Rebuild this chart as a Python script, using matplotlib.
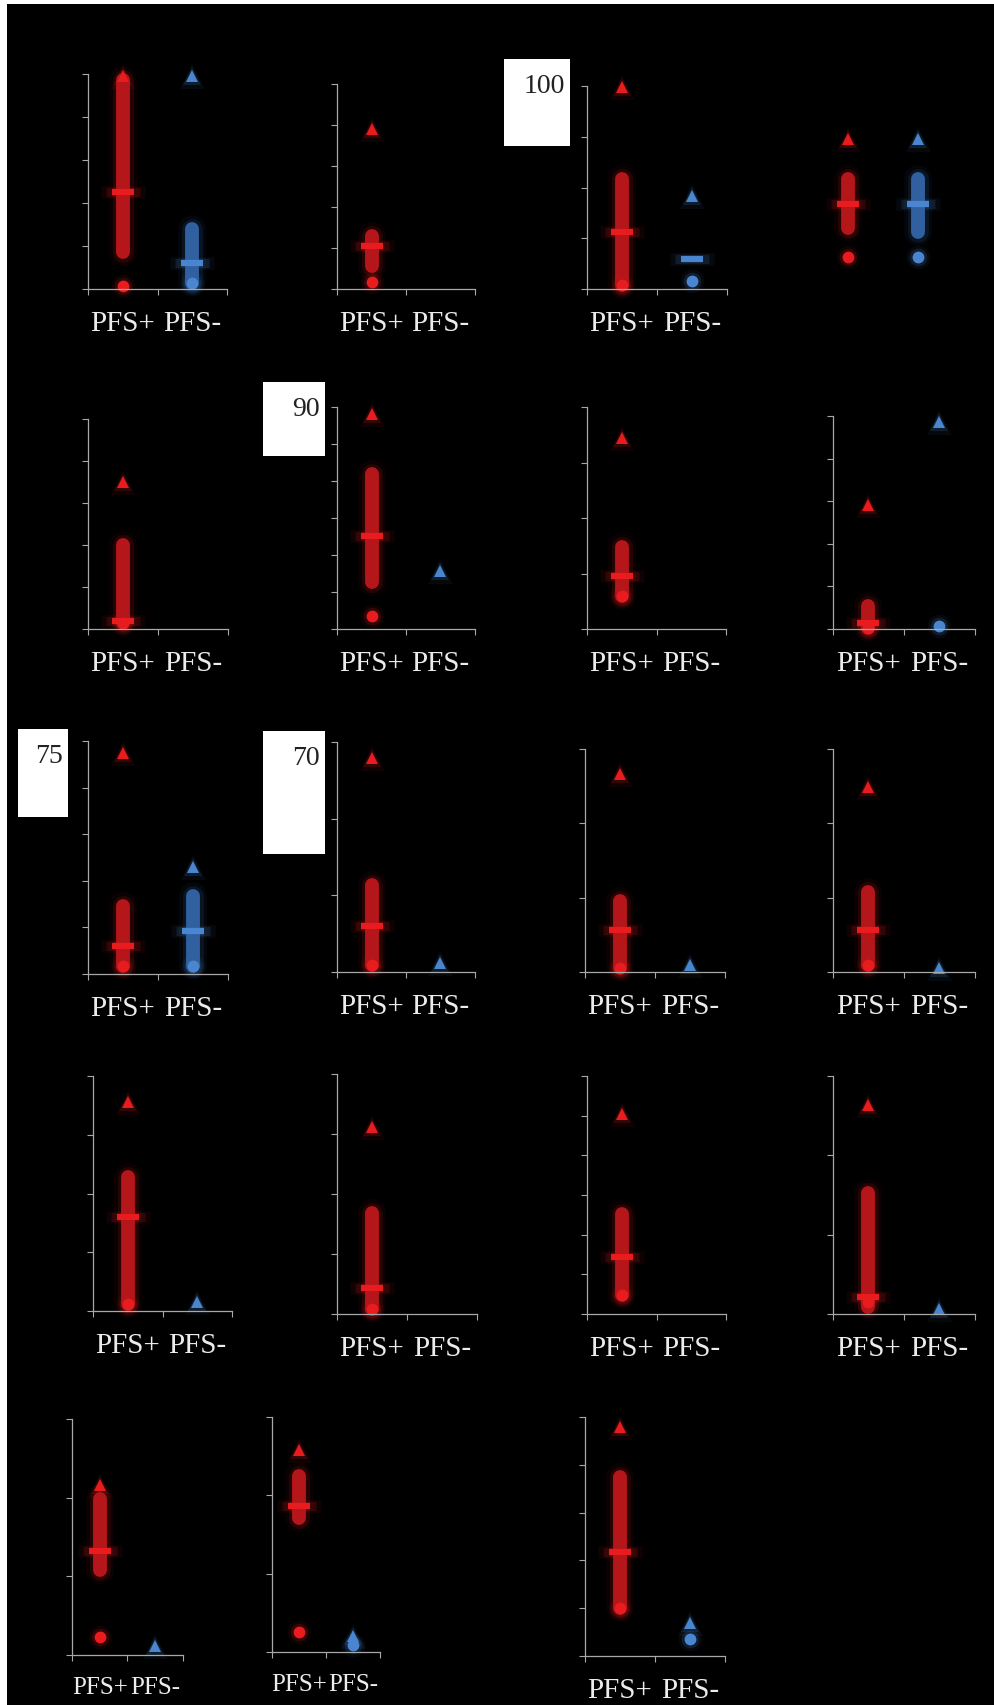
import numpy as np
import matplotlib.pyplot as plt
from matplotlib.patches import Rectangle

W, H = 995, 1706
nan = np.nan

categories = ['PFS+', 'PFS-']

# one row per panel (reading order), values: [min, q1, median, q3, max]
red_stats = [
    [1.5, 17, 45, 97, 99],
    [3.5, 11, 21, 26, 78],
    [2, 2, 28, 54, 99.5],
    [16, 30, 42, 54, 74],
    [3, 3, 4, 40, 70],
    [6, 21, 42, 70, 97],
    [15, 15, 24, 37, 86],
    [0.5, 0.5, 3, 11, 58],
    [3.5, 3.5, 12, 29, 95],
    [3, 3, 20, 38, 93],
    [2, 2, 19, 32, 89],
    [3, 3, 19, 36, 83],
    [3, 3, 40, 57, 89],
    [2, 2, 11, 42, 78],
    [8, 8, 24, 42, 84],
    [5, 3, 7, 51, 88],
    [7.5, 36, 44, 66, 72],
    [8.5, 57, 62, 75, 86],
    [20, 20, 43.5, 75, 96],
]
blue_stats = [
    [3, 3, 12, 28, 99],
    [nan, nan, nan, nan, nan],
    [4, nan, 15, nan, 46],
    [16, 28, 42, 54, 74],
    [nan, nan, nan, nan, nan],
    [nan, nan, nan, nan, 26],
    [nan, nan, nan, nan, nan],
    [1.5, nan, nan, nan, 97],
    [3.5, 3.5, 18.5, 33.5, 46],
    [nan, nan, nan, nan, 4],
    [nan, nan, nan, nan, 3],
    [nan, nan, nan, nan, 2],
    [nan, nan, nan, nan, 4],
    [nan, nan, nan, nan, nan],
    [nan, nan, nan, nan, nan],
    [nan, nan, nan, nan, 2],
    [nan, nan, nan, nan, 4],
    [3, nan, nan, nan, 7],
    [7, nan, nan, nan, 14],
]
tick_intervals = [5, 5, 4, 0, 5, 6, 4, 5, 5, 3, 3, 3, 4, 4, 6, 3, 3, 3, 5]
box_labels = ['100', '90', '75', '70']

# layout in pixels: left, right, axis bottom, axis top
panel_px = [
    (88, 227, 290, 75), (337, 475, 290, 85), (587, 727, 290, 87), (813, 953, 290, 87),
    (88, 228, 630, 420), (337, 475, 630, 408), (587, 726, 630, 408), (833, 975, 630, 417),
    (88, 228, 975, 742), (337, 475, 973, 743), (585, 725, 973, 750), (833, 975, 973, 750),
    (93, 232, 1312, 1077), (337, 477, 1315, 1075), (587, 726, 1315, 1077), (833, 975, 1315, 1077),
    (72, 183, 1656, 1420), (272, 380, 1653, 1418), (585, 725, 1657, 1418),
]
label_size = [21] * 16 + [18, 18, 21]
box_px = [(504, 60, 570, 147), (263, 383, 325, 457), (18, 730, 68, 818), (263, 732, 325, 855)]

RED = ('#e81c1e', '#b4161a')
BLUE = ('#4a86d0', '#30609f')
GLOW = [(2.0, 0.07), (1.5, 0.16), (1.0, 1.0)]
axis_col = '#a8a8a8'

plt.rcParams['font.family'] = ['Liberation Serif', 'DejaVu Serif']

fig = plt.figure(figsize=(W / 100, H / 100), dpi=100, facecolor='black')
fig.patches.append(Rectangle((0, 1 - 5 / H), 1, 5 / H, transform=fig.transFigure,
                             facecolor='white', edgecolor='none'))
fig.patches.append(Rectangle((0, 0), 7 / W, 1, transform=fig.transFigure,
                             facecolor='white', edgecolor='none'))


def draw_group(ax, x, stats, colors):
    lo, q1, med, q3, hi = stats
    bright, body = colors
    for scale, a in GLOW:
        if not np.isnan(q1) and not np.isnan(q3):
            ax.plot([x, x], [q1, q3], color=body, lw=10 * scale, alpha=a,
                    solid_capstyle='round', clip_on=False)
        if not np.isnan(med):
            ax.plot([x], [med], marker='_', ms=16 * scale, mew=4.5 * scale,
                    color=bright, alpha=a, clip_on=False)
        if not np.isnan(hi):
            ax.plot([x], [hi], marker='^', ms=9 * scale, mew=0,
                    color=bright, alpha=a, clip_on=False)
        if not np.isnan(lo):
            ax.plot([x], [lo], marker='o', ms=8.5 * scale, mew=0,
                    color=bright, alpha=a, clip_on=False)


for i, (l, r, b, t) in enumerate(panel_px):
    ax = fig.add_axes([l / W, 1 - b / H, (r - l) / W, (b - t) / H])
    ax.set_facecolor('none')
    ax.set_xlim(0, 2)
    ax.set_ylim(0, 100)
    for s in ['top', 'right']:
        ax.spines[s].set_visible(False)
    n = tick_intervals[i]
    if n == 0:
        ax.axis('off')
    else:
        for s in ['left', 'bottom']:
            ax.spines[s].set_color(axis_col)
            ax.spines[s].set_linewidth(0.9)
        ax.set_yticks(np.linspace(0, 100, n + 1))
        ax.set_yticklabels([])
        ax.set_xticks([0, 1, 2])
        ax.set_xticklabels([])
        ax.set_xticks([0.5, 1.5], minor=True)
        ax.set_xticklabels(categories, minor=True)
        ax.tick_params(axis='both', which='major', color=axis_col, length=4, width=0.8)
        ax.tick_params(axis='x', which='minor', length=0, pad=15,
                       labelsize=label_size[i], labelcolor='#ececec')
    draw_group(ax, 0.5, red_stats[i], RED)
    draw_group(ax, 1.5, blue_stats[i], BLUE)

for (x0, y0, x1, y1), lab in zip(box_px, box_labels):
    fig.patches.append(Rectangle((x0 / W, 1 - y1 / H), (x1 - x0) / W, (y1 - y0) / H,
                                 transform=fig.transFigure, facecolor='white',
                                 edgecolor='none'))
    fig.text((x1 - 5) / W, 1 - (y0 + 14) / H, lab, ha='right', va='top',
             fontsize=20, color='#222222')

fig.savefig('out.png', dpi=100, facecolor='black')
